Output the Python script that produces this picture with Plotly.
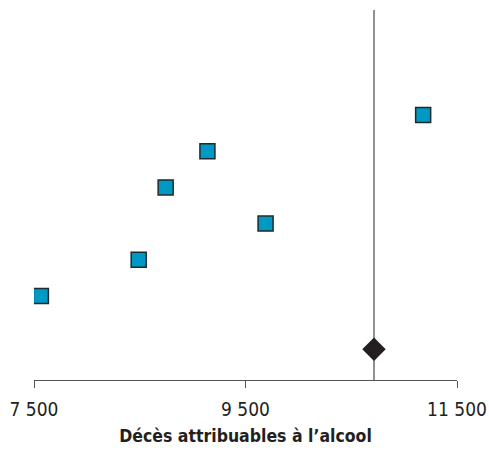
import plotly.graph_objects as go

# Data
study_values = [11180, 9140, 8745, 9690, 8490, 7565]
study_rows = [6, 5, 4, 3, 2, 1]
pooled_value = [10715]
pooled_row = [-0.47]
x_ticks = [7500, 9500, 11500]
x_tick_labels = ["7 500", "9 500", "11 500"]
x_title = "Décès attribuables à l’alcool"

FONT = "DejaVu Sans Condensed, Liberation Sans Narrow, Arial, sans-serif"

fig = go.Figure()

fig.add_trace(go.Scatter(
    x=study_values, y=study_rows, mode="markers",
    marker=dict(symbol="square", size=15, color="#0099c4",
                line=dict(color="#1e2a30", width=1.5)),
    showlegend=False, hoverinfo="x",
))
fig.add_trace(go.Scatter(
    x=pooled_value, y=pooled_row, mode="markers",
    marker=dict(symbol="diamond", size=18, color="#231f20",
                line=dict(color="#231f20", width=0)),
    showlegend=False, hoverinfo="x",
))

fig.add_shape(type="line", xref="x", yref="y",
              x0=pooled_value[0], x1=pooled_value[0], y0=-1.32, y1=8.9,
              line=dict(color="#555555", width=1.3), layer="below")

fig.update_layout(
    width=489, height=451,
    margin=dict(l=34, r=32, t=10, b=71),
    plot_bgcolor="white", paper_bgcolor="white",
    font=dict(family=FONT, size=18, color="#231f20"),
    xaxis=dict(range=[7500, 11500], tickvals=x_ticks, ticktext=x_tick_labels,
               automargin=False, ticklabelstandoff=5,
               showline=True, linecolor="#555555", linewidth=1.3,
               ticks="outside", ticklen=7, tickcolor="#555555", tickwidth=1.3,
               showgrid=False, zeroline=False,
               tickfont=dict(family=FONT, size=19, color="#231f20"),
               title=dict(text="<b>" + x_title + "</b>", standoff=10,
                          font=dict(family=FONT, size=17.5, color="#231f20"))),
    yaxis=dict(range=[-1.32, 8.9], visible=False, automargin=False,
               showgrid=False, zeroline=False),
)

fig.write_html("out.html", post_script="document.body.style.margin='0';",
               config={"displayModeBar": False})
